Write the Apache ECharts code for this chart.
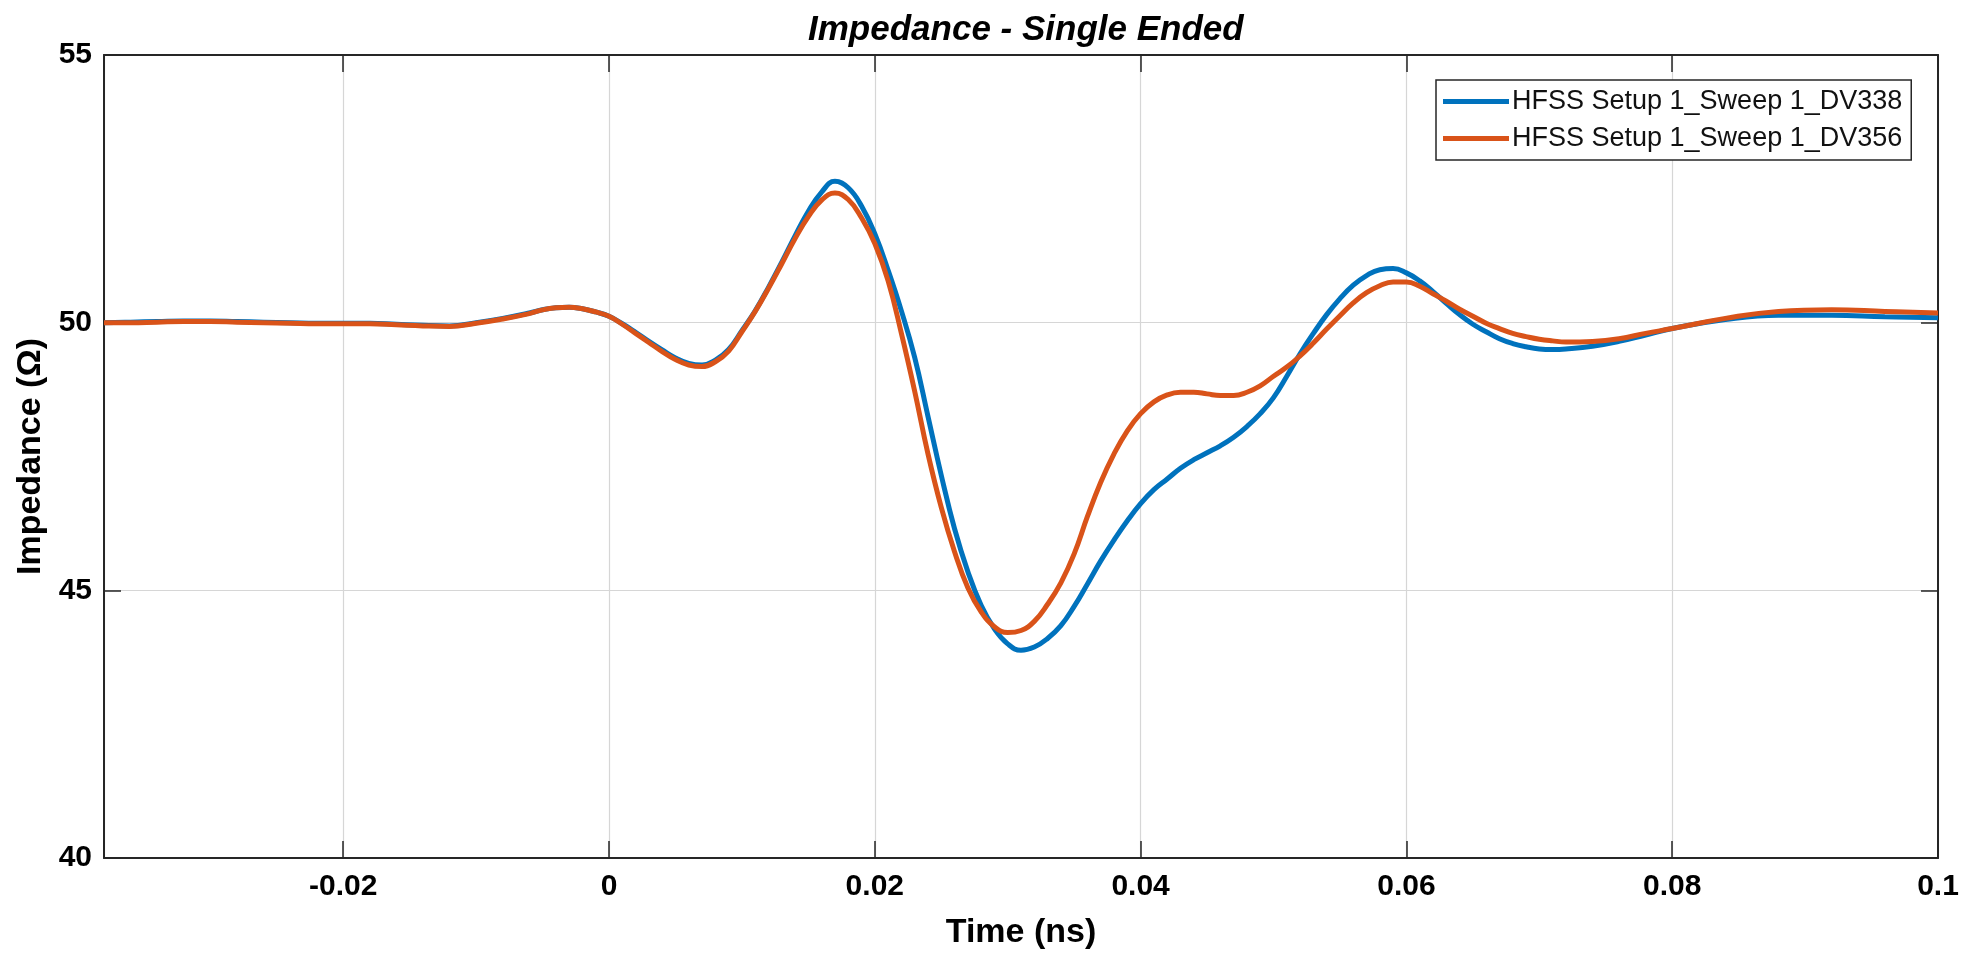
<!DOCTYPE html>
<html>
<head>
<meta charset="utf-8">
<title>Impedance - Single Ended</title>
<script src="https://cdn.jsdelivr.net/npm/echarts@6/dist/echarts.min.js"></script>
<style>
  html, body { margin: 0; padding: 0; background: #fff; }
  #chart { width: 1962px; height: 953px; }
</style>
</head>
<body>
<div id="chart"></div>
<script>
// time samples (ns)
const timeNs = [
  -0.038, -0.036, -0.034, -0.032, -0.030, -0.028, -0.026, -0.024, -0.022, -0.020,
  -0.018, -0.016, -0.014, -0.012, -0.010, -0.008,
  -0.006, -0.005, -0.004, -0.003, -0.002, -0.001, 0.000, 0.001, 0.002, 0.003,
  0.004, 0.005, 0.006, 0.007, 0.008, 0.009, 0.010, 0.011, 0.012, 0.013,
  0.014, 0.015, 0.016, 0.017, 0.018, 0.019, 0.020, 0.021, 0.022, 0.023,
  0.024, 0.025, 0.026, 0.027, 0.028, 0.029, 0.030, 0.031, 0.032, 0.033,
  0.034, 0.035, 0.036, 0.037, 0.038, 0.039, 0.040, 0.041, 0.042, 0.043,
  0.044, 0.045, 0.046, 0.047, 0.048, 0.049, 0.050, 0.051, 0.052, 0.053,
  0.054, 0.055, 0.056, 0.057, 0.058, 0.059, 0.060, 0.061, 0.062, 0.063,
  0.064, 0.065, 0.066, 0.067, 0.068, 0.069, 0.070, 0.071, 0.072,
  0.074, 0.076, 0.078, 0.080,
  0.084, 0.088, 0.092, 0.096, 0.100
];

// impedance (ohm)
const zDV338 = [
  50.00, 50.01, 50.02, 50.03, 50.03, 50.02, 50.01, 50.00, 49.99, 49.99,
  49.99, 49.97, 49.95, 49.94, 50.00, 50.08,
  50.18, 50.24, 50.28, 50.29, 50.26, 50.20, 50.12, 49.98, 49.82, 49.65,
  49.49, 49.34, 49.24, 49.21, 49.30, 49.50, 49.85, 50.22, 50.66, 51.13,
  51.62, 52.08, 52.44, 52.64, 52.52, 52.18, 51.66, 50.98, 50.22, 49.35,
  48.25, 47.15, 46.15, 45.35, 44.72, 44.28, 44.00, 43.88, 43.94, 44.10,
  44.34, 44.70, 45.12, 45.55, 45.94, 46.30, 46.62, 46.88, 47.08, 47.28,
  47.44, 47.57, 47.70, 47.86, 48.06, 48.30, 48.60, 49.00, 49.42, 49.80,
  50.15, 50.45, 50.70, 50.88, 50.99, 51.01, 50.93, 50.78, 50.58, 50.36,
  50.15, 49.97, 49.83, 49.70, 49.61, 49.55, 49.51, 49.50, 49.51,
  49.56, 49.65, 49.77, 49.89,
  50.06, 50.14, 50.14, 50.11, 50.09
];

const zDV356 = [
  50.00, 50.00, 50.01, 50.02, 50.02, 50.01, 50.00, 49.99, 49.98, 49.98,
  49.98, 49.96, 49.94, 49.93, 49.99, 50.07,
  50.17, 50.24, 50.28, 50.29, 50.26, 50.20, 50.12, 49.97, 49.80, 49.63,
  49.46, 49.31, 49.21, 49.18, 49.27, 49.47, 49.83, 50.21, 50.64, 51.10,
  51.57, 51.98, 52.29, 52.42, 52.30, 51.96, 51.48, 50.78, 49.80, 48.72,
  47.55, 46.55, 45.72, 45.05, 44.60, 44.32, 44.21, 44.25, 44.42, 44.74,
  45.14, 45.68, 46.38, 47.02, 47.55, 47.98, 48.30, 48.52, 48.65, 48.70,
  48.70, 48.67, 48.64, 48.64, 48.70, 48.82, 49.00, 49.17, 49.38, 49.62,
  49.88, 50.13, 50.37, 50.56, 50.69, 50.76, 50.76, 50.68, 50.54, 50.40,
  50.25, 50.12, 49.99, 49.89, 49.80, 49.74, 49.69, 49.66, 49.64,
  49.65, 49.70, 49.80, 49.89,
  50.08, 50.21, 50.24, 50.21, 50.18
];

const seriesNames = ['HFSS Setup 1_Sweep 1_DV338', 'HFSS Setup 1_Sweep 1_DV356'];
const seriesColors = ['#0072BD', '#D95319'];

const pairs = (xs, ys) => xs.map((x, i) => [x, ys[i]]);

const font = "'Liberation Sans', Arial, Helvetica, sans-serif";
const axisColor = '#262626';
const gridColor = '#d6d6d6';

// only label multiples of 0.02
const timeLabel = (v) => {
  const r = Math.round(v / 0.02);
  if (Math.abs(v - r * 0.02) > 1e-6) return '';
  return String(+(r * 0.02).toFixed(2));
};

const chart = echarts.init(document.getElementById('chart'));

const lineStyleAxis = { show: true, onZero: false, lineStyle: { color: axisColor, width: 2 } };
const tickStyle = { show: true, inside: true, length: 17, lineStyle: { color: axisColor, width: 1.5 } };

const option = {
  backgroundColor: '#fff',
  animation: false,
  title: {
    text: 'Impedance - Single Ended',
    left: 803,
    top: 8,
    textStyle: { fontFamily: font, fontSize: 35, fontWeight: 'bold', fontStyle: 'italic', color: '#000' }
  },
  legend: {
    orient: 'vertical',
    left: 1436,
    top: 80,
    data: seriesNames,
    icon: 'rect',
    itemWidth: 66,
    itemHeight: 5,
    itemGap: 10,
    padding: [8, 9, 8, 7],
    backgroundColor: '#fff',
    borderColor: axisColor,
    borderWidth: 1.5,
    textStyle: { fontFamily: font, fontSize: 27, color: '#111', padding: [0, 0, 0, -2] }
  },
  grid: { left: 104, right: 24, top: 55, bottom: 95, outerBoundsMode: 'none' },
  xAxis: [
    {
      type: 'value',
      min: -0.038,
      max: 0.1,
      splitNumber: 7,
      minInterval: 0.02,
      maxInterval: 0.02,
      name: 'Time (ns)',
      nameLocation: 'middle',
      nameGap: 58,
      nameTextStyle: { fontFamily: font, fontSize: 34, fontWeight: 'bold', color: '#000' },
      axisLine: lineStyleAxis,
      axisTick: tickStyle,
      axisLabel: { formatter: timeLabel, margin: 14, fontFamily: font, fontSize: 30, fontWeight: 'bold', color: '#000' },
      splitLine: { show: true, lineStyle: { color: gridColor, width: 1.2 } }
    },
    {
      type: 'value', position: 'top', min: -0.038, max: 0.1,
      splitNumber: 7, minInterval: 0.02, maxInterval: 0.02,
      axisLine: lineStyleAxis, axisTick: tickStyle,
      axisLabel: { show: false }, splitLine: { show: false }
    }
  ],
  yAxis: [
    {
      type: 'value',
      min: 40,
      max: 55,
      interval: 5,
      name: 'Impedance (\u03A9)',
      nameLocation: 'middle',
      nameGap: 54,
      nameTextStyle: { fontFamily: font, fontSize: 34, fontWeight: 'bold', color: '#000' },
      axisLine: lineStyleAxis,
      axisTick: tickStyle,
      axisLabel: { margin: 12, fontFamily: font, fontSize: 30, fontWeight: 'bold', color: '#000' },
      splitLine: { show: true, lineStyle: { color: gridColor, width: 1.2 } }
    },
    {
      type: 'value', position: 'right', min: 40, max: 55, interval: 5,
      axisLine: lineStyleAxis, axisTick: tickStyle,
      axisLabel: { show: false }, splitLine: { show: false }
    }
  ],
  series: [
    {
      name: seriesNames[0],
      type: 'line',
      data: pairs(timeNs, zDV338),
      showSymbol: false,
      smooth: 0.45,
      lineStyle: { color: seriesColors[0], width: 5 },
      itemStyle: { color: seriesColors[0] }
    },
    {
      name: seriesNames[1],
      type: 'line',
      data: pairs(timeNs, zDV356),
      showSymbol: false,
      smooth: 0.45,
      lineStyle: { color: seriesColors[1], width: 5 },
      itemStyle: { color: seriesColors[1] }
    }
  ]
};

chart.setOption(option);
</script>
</body>
</html>
